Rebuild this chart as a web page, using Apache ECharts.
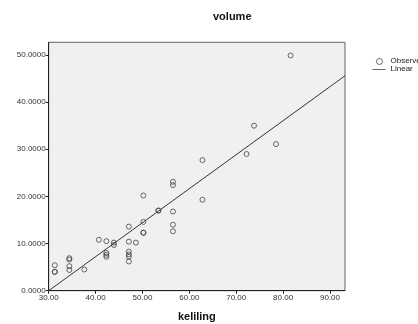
<!DOCTYPE html>
<html><head><meta charset="utf-8">
<script src="https://cdn.jsdelivr.net/npm/echarts@6/dist/echarts.min.js"></script>
<style>html,body{margin:0;padding:0;background:#fff}#c{width:418px;height:324px}</style>
</head><body><div id="c"></div>
<script>
var keliling = [31.3,31.3,31.3,34.4,34.4,34.4,34.4,37.6,40.7,42.3,42.3,42.3,42.3,43.9,43.9,47.1,47.1,47.1,47.1,47.1,47.1,48.6,50.2,50.2,50.2,50.2,53.4,53.4,56.5,56.5,56.5,56.5,56.5,62.8,62.8,72.2,73.8,78.5,81.6];
var volume   = [5.4,4.0,4.0,6.9,6.6,5.2,4.4,4.5,10.8,10.5,8.0,7.6,7.2,10.2,9.7,13.6,10.4,8.3,7.7,7.2,6.2,10.2,20.2,14.6,12.3,12.3,17.0,17.0,23.1,22.4,16.8,14.0,12.6,27.7,19.3,29.0,35.0,31.1,49.9];
var fitX = [30, 93.2];
var fitY = [0, 45.6];
var xTicks = [30,40,50,60,70,80,90];
var yTicks = [0,10,20,30,40,50];

var chart = echarts.init(document.getElementById('c'));
var ff = '"Liberation Sans", Arial, sans-serif';
chart.setOption({
  animation:false,
  title:{text:'volume', left:208, top:6, textStyle:{fontFamily:ff, fontSize:11, fontWeight:'bold', color:'#111'}},
  legend:{orient:'vertical', left:367, top:52, itemGap:0, itemWidth:13, itemHeight:7,
    textStyle:{fontFamily:ff, fontSize:8, color:'#222', lineHeight:7},
    data:[
      {name:'Observed', icon:'path://M7,1 A3,3 0 1,1 6.99,1 Z M0,0 L0.01,0 M13,7 L13.01,7', itemStyle:{color:'rgba(0,0,0,0)', borderColor:'#444', borderWidth:1}},
      {name:'Linear', icon:'path://M0,3.5 L13,3.5 L13,4.3 L0,4.3 Z M0,0 L0.01,0 M0,7 L0.01,7', itemStyle:{color:'#333', borderWidth:0}}
    ]},
  grid:{left:48.7, top:42.3, right:73, bottom:33.3, show:true, containLabel:false, outerBoundsMode:'none',
    backgroundColor:'#f0f0f0', borderColor:'#666', borderWidth:1},
  xAxis:{type:'value', min:30, max:93.2, interval:10,
    name:'keliling', nameLocation:'middle', nameGap:21,
    nameTextStyle:{fontFamily:ff, fontSize:11, fontWeight:'bold', color:'#111'},
    axisLine:{show:true, lineStyle:{color:'#222'}},
    axisTick:{show:true, length:3, lineStyle:{color:'#222'}},
    splitLine:{show:false},
    axisLabel:{fontFamily:ff, fontSize:8, color:'#333', margin:3, showMaxLabel:false,
      formatter:function(v){return xTicks.indexOf(v)>=0 ? v.toFixed(2) : '';}}},
  yAxis:{type:'value', min:0, max:52.7, interval:10,
    axisLine:{show:true, lineStyle:{color:'#222'}},
    axisTick:{show:true, length:3, lineStyle:{color:'#222'}},
    splitLine:{show:false},
    axisLabel:{fontFamily:ff, fontSize:8, color:'#333', margin:3, showMaxLabel:false,
      formatter:function(v){return yTicks.indexOf(v)>=0 ? v.toFixed(4) : '';}}},
  series:[
    {name:'Observed', type:'scatter', symbol:'circle', symbolSize:5,
      itemStyle:{color:'rgba(0,0,0,0)', borderColor:'#444', borderWidth:1},
      data:keliling.map(function(x,i){return [x, volume[i]];})},
    {name:'Linear', type:'line', symbol:'none', lineStyle:{color:'#333', width:1},
      itemStyle:{color:'#333'},
      data:fitX.map(function(x,i){return [x, fitY[i]];})}
  ]
});
</script></body></html>
